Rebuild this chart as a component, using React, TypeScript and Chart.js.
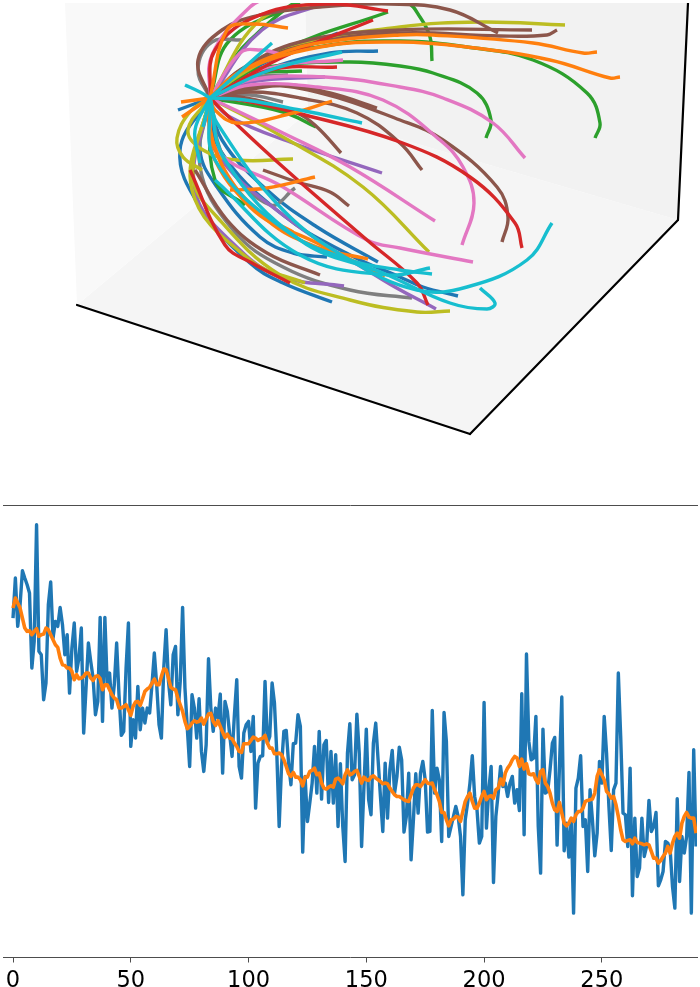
import React, { useEffect, useRef } from "react";
import { Chart, registerables } from "chart.js";

Chart.register(...registerables);

const tickValues = [0, 50, 100, 150, 200, 250];

const rawSeries = [
370,250,395,330,228,250,270,295,520,440,90,470,480,615,565,330,262,430,380,395,338,390,480,420,595,460,385,530,490,400,715,580,445,500,550,660,620,368,680,368,570,535,640,570,445,600,722,710,520,385,755,675,730,575,705,640,685,640,655,570,475,570,690,730,520,405,560,630,480,455,660,560,338,580,700,815,600,640,730,612,770,830,750,492,640,710,640,670,598,835,620,650,720,785,660,555,
815,850,715,690,680,770,665,940,805,785,783,560,745,725,565,625,775,995,815,710,707,805,870,747,745,660,695,1072,845,980,925,865,755,895,710,913,750,737,923,770,925,780,995,807,995,1100,775,687,855,840,658,775,1055,875,703,915,960,745,685,795,905,1010,805,970,825,767,895,845,757,795,1012,965,835,1095,975,837,955,835,800,855,1012,1010,647,895,820,855,1040,653,740,1025,995,965,935,965,1025,1200,975,925,865,783,905,945,1045,1025,623,1000,885,815,1163,965,895,815,875,865,905,865,845,925,885,947,597,1020,478,740,795,790,665,995,1135,703,895,890,825,745,728,1051,815,607,1068,985,1087,975,1255,880,850,783,995,975,1130,885,975,1083,1015,800,865,665,775,935,1067,885,865,535,725,955,960,1055,820,1203,970,1145,1120,970,1085,1055,917,1010,995,953,1173,1155,1130,1040,1045,1065,1175,1240,912,1160,1025,1075,1025,833,1255,765,1055,
];

const smoothSeries = [
340,310,325,340,370,400,410,408,420,410,402,425,420,418,400,405,420,435,450,458,490,510,512,520,520,530,555,540,552,550,545,535,535,550,557,545,543,552,585,570,570,585,600,610,615,640,640,635,630,645,662,635,622,620,632,612,590,583,578,565,553,570,570,545,523,525,550,578,583,585,610,630,650,680,702,695,685,678,682,680,670,688,672,658,656,680,692,678,695,712,728,718,730,732,745,755,
770,773,747,747,747,737,727,730,737,733,730,722,745,760,760,777,777,775,780,795,815,837,845,833,847,847,855,873,847,847,830,827,820,840,835,865,880,883,877,873,877,853,850,857,867,840,825,840,837,830,827,845,865,847,855,857,847,843,850,855,860,867,865,867,880,890,900,905,905,910,915,918,920,900,880,870,870,875,865,855,865,867,865,885,900,920,953,953,975,993,975,973,965,967,980,950,920,905,895,920,940,940,925,905,890,915,905,903,910,885,880,853,870,835,820,810,795,785,790,815,793,823,807,837,840,837,855,865,830,825,865,875,895,925,945,950,923,955,985,993,985,970,980,960,950,950,940,920,917,915,913,895,845,825,840,855,890,897,910,905,930,965,1005,1035,1040,1037,1035,1047,1030,1043,1045,1047,1050,1047,1050,1070,1090,1090,1105,1097,1085,1075,1055,1075,1045,1025,1015,1030,985,965,953,967,970,970,1015,
];

// panes and axis edges of the 3D box, in projected coordinates
const leftWall = [65,3, 77,305, 308,112, 305,3];
const rightWall = [305,3, 308,112, 678,220, 688,3];
const floorPane = [77,305, 470,434, 678,220, 308,112];
const frontEdge = [77,305, 470,434];
const sideEdge = [470,434, 678,220];
const riseEdge = [678,220, 688,3];

// projected trajectories (flat x,y lists), grouped by colour
const blueCurves = [
  [210,98, 220,150, 283,215, 350,255, 400,277, 423,287, 458,296],
  [210,98, 222,140, 267,190, 317,227, 378,262],
  [210,98, 200,150, 217,187, 260,237, 293,253, 327,257],
  [210,98, 180,150, 200,207, 250,263, 283,283, 332,302],
  [210,98, 260,72, 330,53, 378,51],
  [210,98, 260,65, 338,33],
  [210,98, 178,110],
];
const orangeCurves = [
  [210,98, 235,75, 290,50, 340,40, 400,35, 433,35, 533,43, 583,53, 597,52],
  [210,98, 240,72, 320,47, 400,42, 467,47, 550,60, 610,78, 620,77],
  [210,98, 215,110, 237,123, 293,113, 332,101],
  [210,98, 208,117, 223,167, 260,213, 293,232],
  [210,98, 212,140, 250,207, 317,243, 385,276],
  [210,98, 215,160, 267,220, 317,247, 368,259],
  [210,98, 227,30, 253,24, 288,28],
  [210,98, 181,102],
  [210,98, 182,117],
  [230,190, 267,188, 315,177],
];
const greenCurves = [
  [210,98, 250,65, 330,45, 400,41, 467,47, 533,60, 587,93, 600,123, 595,138],
  [210,98, 240,75, 283,65, 350,62, 400,66, 433,73, 477,93, 491,120, 486,138],
  [210,98, 250,40, 330,-12, 407,3, 420,17, 430,37, 432,61],
  [210,98, 283,50, 388,12],
  [210,98, 283,112, 316,127],
  [210,98, 250,75, 302,71],
  [210,98, 230,40, 300,3],
  [210,98, 215,180, 245,205],
];
const redCurves = [
  [210,98, 240,100, 297,113, 400,142, 470,177, 515,223, 522,248],
  [210,98, 230,118, 283,167, 367,240, 417,283, 428,305],
  [210,98, 215,50, 260,15, 330,4, 388,11],
  [210,98, 283,57, 373,20],
  [210,98, 270,70, 337,67],
  [190,170, 225,245, 252,263, 290,283],
];
const purpleCurves = [
  [210,98, 230,117, 290,142, 382,173],
  [210,98, 250,82, 325,77],
  [210,98, 262,30, 325,3],
  [210,98, 215,150, 283,215, 383,280, 436,309],
  [210,98, 195,190, 240,250, 283,277, 344,286],
];
const brownCurves = [
  [210,98, 250,65, 320,42, 400,33, 500,36, 547,35, 557,30],
  [210,98, 240,70, 300,42, 400,30, 532,30],
  [210,98, 198,60, 222,30, 260,15, 320,7, 390,4, 450,10, 498,33],
  [210,98, 260,86, 317,92, 400,120, 443,140, 497,187, 508,217, 502,242],
  [210,98, 250,92, 300,98, 357,113, 400,143, 422,170],
  [210,98, 283,85, 330,93, 377,108],
  [210,98, 240,97, 297,113, 317,127, 341,153],
  [263,170, 297,182, 330,192, 349,206],
  [195,170, 227,220, 267,253, 320,275],
];
const pinkCurves = [
  [210,98, 250,80, 325,77, 400,87, 443,98, 493,123, 525,158],
  [210,98, 250,85, 317,87, 383,100, 440,140, 463,167, 474,203, 462,245],
  [210,98, 283,133, 350,167, 435,221],
  [210,98, 217,150, 283,187, 367,240, 400,248, 473,262],
  [210,98, 212,55, 250,7, 275,-5],
  [210,98, 270,68, 343,60],
  [210,98, 240,53, 260,50, 285,55],
];
const grayCurves = [
  [210,98, 198,70, 212,42, 243,40],
  [210,98, 250,95, 283,102],
  [210,98, 250,78, 288,75],
  [210,98, 200,167, 233,230, 283,267, 350,290, 412,298],
  [210,98, 225,160, 270,205, 295,188],
];
const oliveCurves = [
  [210,98, 240,75, 300,45, 400,27, 480,22, 565,25],
  [210,98, 283,137, 363,187, 429,252],
  [210,98, 188,130, 203,150, 237,160, 293,159],
  [210,98, 190,112, 177,138, 183,157, 202,170],
  [210,98, 193,177, 217,217, 280,275, 350,300, 417,312, 450,311],
  [210,98, 192,190, 250,260, 305,283],
  [210,98, 260,20, 315,3],
];
const cyanCurves = [
  [210,98, 217,123, 283,210, 350,260, 417,290, 467,287, 527,260, 552,223],
  [210,98, 225,160, 300,240, 383,273, 450,303, 487,309, 495,303, 480,288],
  [210,98, 215,160, 285,230, 350,260, 400,270, 432,274],
  [215,180, 300,255, 388,275, 430,268],
  [210,98, 245,100, 300,110, 362,123],
  [210,98, 270,70, 342,52],
  [210,98, 272,43],
  [210,98, 200,92, 185,85],
  [210,98, 203,127],
  [210,98, 195,130, 200,163],
];

const T10 = { blue:"#1f77b4", orange:"#ff7f0e", green:"#2ca02c", red:"#d62728", purple:"#9467bd", brown:"#8c564b", pink:"#e377c2", gray:"#7f7f7f", olive:"#bcbd22", cyan:"#17becf" };

const toPoints = (flat: number[]) => {
  const out: { x: number; y: number }[] = [];
  for (let i = 0; i < flat.length; i += 2) out.push({ x: flat[i], y: flat[i + 1] });
  return out;
};

export default function App() {
  const topRef = useRef<HTMLCanvasElement>(null);
  const botRef = useRef<HTMLCanvasElement>(null);

  useEffect(() => {
    const groups: [number[][], string][] = [
      [blueCurves, T10.blue], [greenCurves, T10.green], [grayCurves, T10.gray], [purpleCurves, T10.purple],
      [oliveCurves, T10.olive], [brownCurves, T10.brown], [pinkCurves, T10.pink], [redCurves, T10.red],
      [orangeCurves, T10.orange], [cyanCurves, T10.cyan],
    ];
    const curveSets: any[] = [];
    groups.forEach(([list, color], g) => {
      list.forEach((flat) => {
        curveSets.push({
          data: toPoints(flat), borderColor: color, borderWidth: 3.4, tension: 0.4,
          capBezierPoints: false, borderCapStyle: "butt", borderJoinStyle: "round",
          pointRadius: 0, fill: false, order: 50 - g,
        });
      });
    });
    const pane = (flat: number[], color: string, order: number) => ({
      data: toPoints([...flat, flat[0], flat[1]]), borderColor: color, backgroundColor: color, borderWidth: 0,
      pointRadius: 0, fill: "shape", tension: 0, order,
    });
    const edge = (flat: number[]) => ({
      data: toPoints(flat), borderColor: "#000", borderWidth: 2.2, pointRadius: 0, fill: false, tension: 0, borderCapStyle: "round", order: 90,
    });
    const top = new Chart(topRef.current!, {
      type: "scatter",
      data: { datasets: [
        pane(leftWall, "#f9f9f9", 100), pane(rightWall, "#f2f2f2", 100), pane(floorPane, "#f5f5f5", 100),
        edge(frontEdge), edge(sideEdge), edge(riseEdge), ...curveSets,
      ] as any },
      options: {
        animation: false, responsive: false,
        layout: { padding: { top: 3, left: 0, right: 0, bottom: 0 }, autoPadding: false },
        plugins: { legend: { display: false }, tooltip: { enabled: false } },
        elements: { line: { } },
        datasets: { scatter: { showLine: true } },
        scales: {
          x: { type: "linear", min: 0, max: 700, display: false },
          y: { type: "linear", min: 3, max: 495, reverse: true, display: false },
        },
      } as any,
    });

    const spine = "#4d4d4d";
    const bottom = new Chart(botRef.current!, {
      type: "line",
      data: { datasets: [
        { data: smoothSeries.map((y, x) => ({ x, y })), borderColor: T10.orange, borderWidth: 3.6, pointRadius: 0, tension: 0, borderJoinStyle: "round", order: 0 },
        { data: rawSeries.map((y, x) => ({ x, y })), borderColor: T10.blue, borderWidth: 3.4, pointRadius: 0, tension: 0, borderJoinStyle: "round", order: 1 },
      ] as any },
      options: {
        animation: false, responsive: false,
        layout: { padding: { top: 10, left: 3, right: 3, bottom: 0 }, autoPadding: false },
        plugins: { legend: { display: false }, tooltip: { enabled: false } },
        scales: {
          x: {
            type: "linear", position: "bottom", min: -4.25, max: 290.4,
            border: { color: spine, width: 1 },
            grid: { display: true, drawOnChartArea: false, drawTicks: true, tickLength: 5, color: spine, tickWidth: 1 },
            afterBuildTicks: (s: any) => { s.ticks = tickValues.map((value) => ({ value })); },
            afterFit: (s: any) => { s.height = 29.5; },
            ticks: { color: "#000", padding: 5, maxRotation: 0, autoSkip: false, font: { family: "DejaVu Sans", size: 22.5 } },
          },
          xTop: {
            type: "linear", position: "top", min: -4.25, max: 290.4,
            border: { color: spine, width: 1 }, grid: { display: false, drawTicks: false },
            ticks: { display: false }, afterFit: (s: any) => { s.height = 0; },
          },
          y: { type: "linear", min: 31, max: 1388, reverse: true, display: false },
        },
      } as any,
    });
    return () => { top.destroy(); bottom.destroy(); };
  }, []);

  return (
    <div>
      <canvas ref={topRef} width={700} height={495} style={{ position: "absolute", left: 0, top: 0, display: "block" }} />
      <canvas ref={botRef} width={700} height={492} style={{ position: "absolute", left: 0, top: 495, display: "block" }} />
    </div>
  );
}
